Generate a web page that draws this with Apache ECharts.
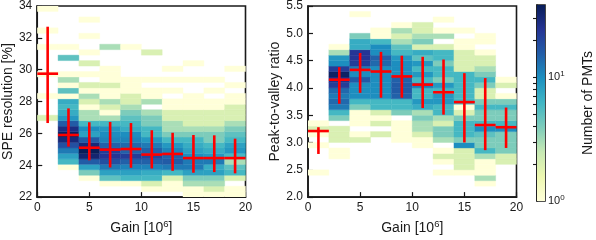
<!DOCTYPE html>
<html><head><meta charset="utf-8">
<script src="https://cdn.jsdelivr.net/npm/echarts@6/dist/echarts.min.js"></script>
<style>html,body{margin:0;padding:0;background:#fff}#c{width:596px;height:240px}</style>
</head><body><div id="c"></div>
<script>
// ---------- data ----------
const gainEdges = [0, 2, 4, 6, 8, 10, 12, 14, 16, 18, 20];
const gainTicks = [0, 5, 10, 15, 20];
const speRange = [22, 34];   // SPE resolution [%], 35 bins
const pvRange = [2.0, 5.5];  // peak-to-valley ratio, 35 bins
const binCount = 35;
const colorMax = 38.4;       // top of colour bar (number of PMTs)

// counts per gain bin, listed from lowest y bin to highest
const speCounts = [
  [0,0,0,0,0,0,0,0,0,0,0,0,0,0,2,0,0,0,1,0,0,0,1,0,0,0,0,1,0,0,1,0,0,0,1],
  [0,0,0,0,0,1,6,8,12,18,30,36,28,16,9,7,6,7,1,5,1,3,1,0,0,5,0,1,0,0,0,0,0,0,0],
  [0,0,0,1,4,8,16,32,38,30,16,8,10,6,3,3,1,2,3,1,2,0,1,0,2,0,1,0,0,1,0,0,1,0,0],
  [0,0,1,5,8,12,18,24,22,15,11,10,9,6,3,1,2,3,1,1,2,1,1,1,0,0,0,3,0,0,0,0,0,0,0],
  [0,0,1,6,8,11,15,22,15,14,11,10,7,6,5,4,3,2,2,1,1,1,0,0,0,0,0,1,0,0,0,0,0,0,0],
  [0,1,2,6,7,11,15,20,15,12,9,6,6,4,4,3,0,3,1,1,0,1,0,0,0,0,2,0,0,0,0,0,0,0,0],
  [0,1,1,2,6,12,16,15,11,9,6,4,3,3,2,2,1,1,0,1,0,1,0,1,0,0,0,0,0,0,0,0,0,0,0],
  [1,1,3,4,8,12,12,10,8,7,6,4,3,2,2,2,1,1,1,0,0,1,0,0,1,0,0,0,0,0,0,0,0,0,0],
  [1,2,3,4,8,7,12,9,7,6,4,4,3,2,2,2,1,1,0,1,0,1,0,0,0,0,0,0,0,0,0,0,0,0,0],
  [1,1,0,2,6,5,3,6,9,8,6,5,4,3,2,2,2,1,1,0,1,0,0,1,0,0,0,0,0,0,0,0,0,0,0]
];
const pvCounts = [
  [0,0,0,0,1,0,0,0,0,1,0,1,2,1,0,0,0,0,0,0,0,0,0,0,0,0,0,0,0,0,0,0,0,0,0],
  [0,0,0,0,0,0,0,1,1,0,2,2,2,0,4,6,12,14,12,14,22,26,35,22,10,9,3,1,0,0,0,0,0,0,0],
  [0,0,0,0,0,0,0,0,0,0,2,1,0,1,1,1,4,6,10,10,10,16,10,12,22,24,24,7,7,4,0,0,0,1,0],
  [0,0,0,0,0,0,0,0,0,0,0,2,0,2,1,2,6,6,10,10,10,10,10,10,14,15,10,10,6,1,1,0,0,0,0],
  [0,0,0,0,0,0,0,0,0,0,1,1,1,1,0,4,6,6,15,16,16,15,10,10,10,9,6,5,3,2,3,1,0,0,0],
  [0,0,0,0,0,0,0,0,0,1,1,2,3,3,4,3,7,9,6,6,12,6,9,6,9,5,7,2,4,3,2,2,0,0,0],
  [0,0,0,0,1,0,1,2,1,0,3,4,4,2,3,6,6,9,9,6,9,4,6,6,4,6,6,2,0,3,1,0,1,0,0],
  [0,0,0,0,1,2,2,2,2,10,4,6,6,6,4,2,1,6,6,6,6,6,6,2,2,2,2,1,1,0,1,0,0,0,0],
  [0,0,1,3,1,1,1,3,6,4,4,5,10,6,4,4,6,4,2,2,4,6,4,3,2,2,1,0,1,1,0,0,0,0,0],
  [0,0,0,0,0,0,2,2,4,4,4,4,10,6,4,4,6,4,1,0,2,1,0,0,0,0,0,0,0,0,0,0,0,0,0]
];

// red crosses: mean and spread per gain bin
const speMean = [29.75, 25.9, 25.1, 24.98, 25.02, 24.67, 24.71, 24.45, 24.45, 24.45];
const speLow  = [26.65, 25.17, 24.31, 23.86, 23.84, 23.8, 23.65, 23.53, 23.57, 23.49];
const speHigh = [32.7, 27.57, 26.7, 26.72, 26.65, 26.2, 26.04, 25.9, 25.88, 25.67];
const pvMean = [3.21, 4.15, 4.33, 4.30, 4.21, 4.06, 3.92, 3.74, 3.32, 3.28];
const pvLow  = [2.79, 3.71, 3.91, 3.82, 3.82, 3.63, 3.51, 3.0, 2.86, 2.9];
const pvHigh = [3.28, 4.38, 4.64, 4.66, 4.59, 4.57, 4.52, 4.27, 4.18, 3.64];

const ylgnbu = ['#ffffd9','#edf8b1','#c7e9b4','#7fcdbb','#41b6c4','#1d91c0','#225ea8','#253494','#081d58'];

// ---------- build ----------
function cells(counts, range) {
  const dy = (range[1] - range[0]) / binCount;
  const out = [];
  counts.forEach((col, j) => col.forEach((c, k) => {
    if (c > 0) out.push([gainEdges[j], gainEdges[j + 1], range[0] + k * dy, range[0] + (k + 1) * dy, Math.log10(c), c]);
  }));
  return out;
}
function crosses(mean, lo, hi) {
  return mean.map((m, j) => [(gainEdges[j] + gainEdges[j + 1]) / 2, m, lo[j], hi[j], (gainEdges[j + 1] - gainEdges[j]) / 2]);
}
function renderCell(params, api) {
  const p0 = api.coord([api.value(0), api.value(2)]);
  const p1 = api.coord([api.value(1), api.value(3)]);
  const col = api.visual('color');
  return { type: 'rect', shape: { x: p0[0], y: p1[1], width: p1[0] - p0[0], height: p0[1] - p1[1] },
    style: { fill: col, stroke: col, lineWidth: 0.4 } };
}
function renderCross(params, api) {
  const c = api.value(0), m = api.value(1), lo = api.value(2), hi = api.value(3), hw = api.value(4);
  const a = api.coord([c - hw, m]), b = api.coord([c + hw, m]);
  const t = api.coord([c, hi]), u = api.coord([c, lo]);
  const st = { stroke: '#ff0000', lineWidth: 2.6 };
  return { type: 'group', children: [
    { type: 'line', shape: { x1: a[0], y1: a[1], x2: b[0], y2: b[1] }, style: st },
    { type: 'line', shape: { x1: t[0], y1: t[1], x2: u[0], y2: u[1] }, style: st }
  ] };
}
function renderBar(params, api) {
  const p0 = api.coord([api.value(0), api.value(1)]);
  const p1 = api.coord([api.value(2), api.value(3)]);
  return { type: 'rect', shape: { x: p0[0], y: p1[1], width: p1[0] - p0[0], height: p0[1] - p1[1] },
    style: { fill: new echarts.graphic.LinearGradient(0, 1, 0, 0,
      ylgnbu.map((c, i) => ({ offset: i / (ylgnbu.length - 1), color: c }))) } };
}

const FONT = 'Liberation Sans, Arial, Helvetica, sans-serif';
const INK = '#1a1a1a';
const logMax = Math.log10(colorMax);
const supRich = {
  a: { fontSize: 14, fontFamily: FONT, color: INK, lineHeight: 18 },
  s: { fontSize: 9.5, fontFamily: FONT, color: INK, lineHeight: 10, verticalAlign: 'top' }
};

function xAxisFor(gi) {
  return {
    gridIndex: gi, type: 'value', min: gainEdges[0], max: gainEdges[gainEdges.length - 1], interval: gainTicks[1] - gainTicks[0],
    axisLine: { show: true, lineStyle: { color: INK, width: 1.6 } },
    axisTick: { show: true, inside: true, length: 5, lineStyle: { color: INK, width: 1.2 } },
    axisLabel: { fontSize: 12, color: INK, fontFamily: FONT, margin: 5 },
    splitLine: { show: false },
    name: '{a|Gain [10}{s|6}{a|]}', nameLocation: 'middle', nameGap: 20,
    nameTextStyle: { rich: supRich }
  };
}
function yAxisFor(gi, range, step, name, gap, fmt) {
  return {
    gridIndex: gi, type: 'value', min: range[0], max: range[1], interval: step,
    axisLine: { show: true, lineStyle: { color: INK, width: 1.6 } },
    axisTick: { show: true, inside: true, length: 5, lineStyle: { color: INK, width: 1.2 } },
    axisLabel: { fontSize: 12, color: INK, fontFamily: FONT, margin: 5, formatter: fmt },
    splitLine: { show: false },
    name: name, nameLocation: 'middle', nameGap: gap,
    nameTextStyle: { fontSize: 14, color: INK, fontFamily: FONT }
  };
}

const minorTicks = [];
[2,3,4,5,6,7,8,9,10,20,30].forEach(v => minorTicks.push(Math.log10(v)));

const option = {
  animation: false,
  backgroundColor: '#fff',
  grid: [
    { left: 37, top: 5, width: 208.5, height: 196, show: true, borderColor: INK, borderWidth: 1.6, backgroundColor: 'transparent' },
    { left: 308, top: 5, width: 208.5, height: 196, show: true, borderColor: INK, borderWidth: 1.6, backgroundColor: 'transparent' },
    { left: 537, top: 5, width: 16, height: 196, show: true, borderColor: INK, borderWidth: 1.6, backgroundColor: 'transparent' }
  ],
  xAxis: [
    xAxisFor(0), xAxisFor(1),
    { gridIndex: 2, type: 'value', min: 0, max: 1, show: false }
  ],
  yAxis: [
    yAxisFor(0, speRange, 2, 'SPE resolution [%]', 22, v => String(v)),
    yAxisFor(1, pvRange, 0.5, 'Peak-to-valley ratio', 26, v => v.toFixed(1)),
    {
      gridIndex: 2, type: 'value', min: 0, max: logMax, position: 'right',
      axisLine: { show: true, lineStyle: { color: INK, width: 1.6 } },
      axisTick: { show: true, inside: true, length: 4, customValues: minorTicks, lineStyle: { color: INK, width: 1.1 } },
      axisLabel: { customValues: [0, 1], margin: 3, formatter: v => '{a|10}{s|' + Math.round(v) + '}',
        rich: { a: { fontSize: 11, fontFamily: FONT, color: INK, lineHeight: 14 },
                s: { fontSize: 8, fontFamily: FONT, color: INK, lineHeight: 8, verticalAlign: 'top' } } },
      splitLine: { show: false },
      name: 'Number of PMTs', nameLocation: 'middle', nameGap: 36, nameRotate: 90,
      nameTextStyle: { fontSize: 14, color: INK, fontFamily: FONT }
    }
  ],
  visualMap: {
    type: 'continuous', show: false, min: 0, max: logMax, dimension: 4, seriesIndex: [0, 2],
    inRange: { color: ylgnbu }
  },
  series: [
    { type: 'custom', xAxisIndex: 0, yAxisIndex: 0, renderItem: renderCell, data: cells(speCounts, speRange),
      encode: { x: [0, 1], y: [2, 3] }, z: 1, clip: true },
    { type: 'custom', xAxisIndex: 0, yAxisIndex: 0, renderItem: renderCross, data: crosses(speMean, speLow, speHigh),
      encode: { x: 0, y: [1, 2, 3] }, z: 3 },
    { type: 'custom', xAxisIndex: 1, yAxisIndex: 1, renderItem: renderCell, data: cells(pvCounts, pvRange),
      encode: { x: [0, 1], y: [2, 3] }, z: 1, clip: true },
    { type: 'custom', xAxisIndex: 1, yAxisIndex: 1, renderItem: renderCross, data: crosses(pvMean, pvLow, pvHigh),
      encode: { x: 0, y: [1, 2, 3] }, z: 3 },
    { type: 'custom', xAxisIndex: 2, yAxisIndex: 2, renderItem: renderBar, data: [[0, 0, 1, logMax]],
      encode: { x: [0, 2], y: [1, 3] }, z: 1 }
  ]
};
echarts.init(document.getElementById('c'), null, { renderer: 'canvas' }).setOption(option);
</script>
</body></html>
